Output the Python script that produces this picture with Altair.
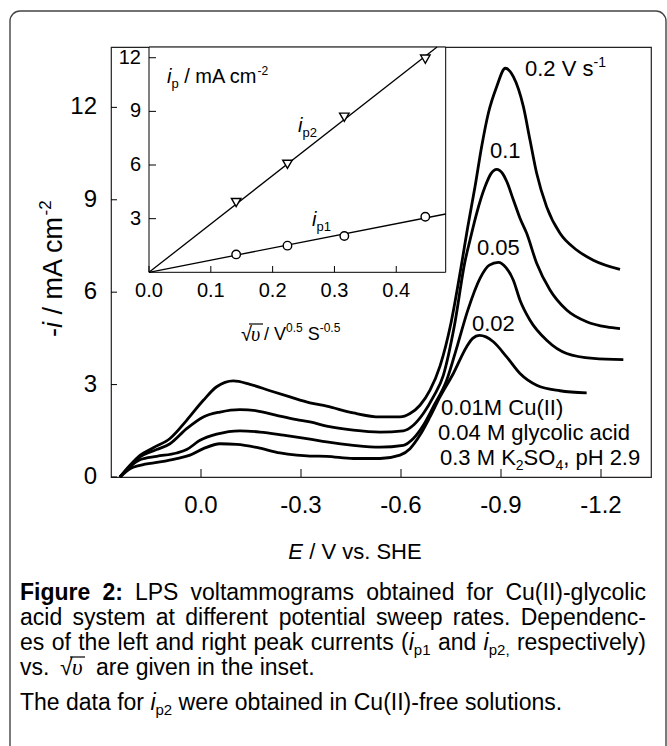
import altair as alt
import pandas as pd

# ---------------- LPS voltammograms: potential E (V vs. SHE) and -i (mA cm^-2)
E_020 = [0.243, 0.213, 0.183, 0.143, 0.093, 0.043, -0.007, -0.047, -0.097, -0.147, -0.207, -0.267, -0.327,
         -0.377, -0.457, -0.537, -0.597, -0.627, -0.657, -0.687, -0.717, -0.750, -0.780, -0.800, -0.822,
         -0.842, -0.862, -0.887, -0.913, -0.937, -0.967, -0.987, -1.007, -1.037, -1.077, -1.127, -1.177, -1.257]
I_020 = [0.00, 0.38, 0.70, 0.95, 1.25, 1.84, 2.49, 2.93, 3.12, 3.01, 2.80, 2.60, 2.41,
         2.30, 2.08, 1.95, 1.95, 2.06, 2.33, 2.82, 3.60, 5.00, 6.80, 8.10, 9.42,
         10.73, 11.81, 12.67, 13.27, 13.00, 12.03, 10.94, 9.86, 8.77, 7.91, 7.37, 7.04, 6.74]

E_010 = [0.243, 0.213, 0.183, 0.133, 0.093, 0.043, -0.007, -0.057, -0.117, -0.167, -0.227, -0.287, -0.327,
         -0.377, -0.457, -0.537, -0.607, -0.637, -0.667, -0.697, -0.727, -0.760, -0.792, -0.807, -0.827,
         -0.852, -0.870, -0.887, -0.905, -0.917, -0.937, -0.957, -0.977, -1.007, -1.047, -1.097, -1.157,
         -1.217, -1.257]
I_010 = [0.00, 0.35, 0.65, 0.89, 1.08, 1.57, 1.95, 2.11, 2.19, 2.15, 2.00, 1.86, 1.79,
         1.65, 1.52, 1.46, 1.50, 1.68, 2.06, 2.60, 3.30, 4.90, 7.00, 7.69, 8.56,
         9.42, 9.85, 9.99, 9.85, 9.60, 9.00, 8.40, 7.91, 6.94, 6.07, 5.42, 5.04,
         4.87, 4.82]

E_005 = [0.243, 0.213, 0.183, 0.133, 0.073, 0.043, 0.003, -0.047, -0.117, -0.177, -0.247, -0.327,
         -0.377, -0.457, -0.537, -0.607, -0.637, -0.667, -0.697, -0.737, -0.770, -0.800, -0.837, -0.865,
         -0.892, -0.915, -0.937, -0.957, -0.987, -1.037, -1.097, -1.177, -1.267]
I_005 = [0.00, 0.33, 0.56, 0.67, 0.78, 0.89, 1.19, 1.39, 1.50, 1.46, 1.36, 1.23,
         1.14, 1.03, 0.97, 1.03, 1.25, 1.68, 2.28, 3.14, 4.30, 5.40, 6.45, 6.88,
         6.97, 6.80, 6.39, 5.74, 5.09, 4.44, 4.01, 3.85, 3.81]

E_002 = [0.243, 0.213, 0.183, 0.123, 0.073, 0.033, -0.007, -0.057, -0.107, -0.167, -0.237, -0.287, -0.327,
         -0.377, -0.457, -0.537, -0.597, -0.627, -0.657, -0.687, -0.717, -0.757, -0.797, -0.815, -0.835,
         -0.855, -0.877, -0.917, -0.957, -1.007, -1.077, -1.157]
I_002 = [0.00, 0.27, 0.38, 0.49, 0.60, 0.71, 0.92, 1.08, 1.06, 0.96, 0.78, 0.71, 0.68,
         0.67, 0.60, 0.60, 0.71, 0.92, 1.36, 1.95, 2.60, 3.36, 4.23, 4.50, 4.60,
         4.55, 4.39, 3.90, 3.36, 2.98, 2.80, 2.73]

main_x_ticks = [0.0, -0.3, -0.6, -0.9, -1.2]
main_x_labels = ["0.0", "-0.3", "-0.6", "-0.9", "-1.2"]
main_y_ticks = [0, 3, 6, 9, 12]

# ---------------- inset: peak currents vs. square root of sweep rate
sqrt_v = [0.141, 0.224, 0.316, 0.447]
ip1 = [1.00, 1.49, 2.03, 3.11]
ip2 = [3.90, 6.04, 8.67, 11.92]
fit1_x, fit1_y = [0.0, 0.48], [0.0, 3.26]
fit2_x, fit2_y = [0.0, 0.466], [0.0, 12.6]
inset_x_ticks = [0.0, 0.1, 0.2, 0.3, 0.4]
inset_x_labels = ["0.0", "0.1", "0.2", "0.3", "0.4"]
inset_y_ticks = [3, 6, 9, 12]

# ---------------- layout (page pixels)
X0, Y0 = 111, 47          # top-left corner of the plot area
W, H = 540, 430
SANS = "Liberation Sans"
SERIF = "Liberation Serif"

main_x = alt.Scale(domain=[-1.35, 0.27], reverse=True, nice=False, zero=False)
main_y = alt.Scale(domain=[0, 13.96], nice=False, zero=False)
inset_x = alt.Scale(domain=[0, 0.48], range=[38, 334.7], nice=False, zero=False)
inset_y = alt.Scale(domain=[0, 12.6], range=[225.3, 0], nice=False, zero=False)

# Arial-compatible advance widths (per 1000 em) for laying out text runs
_W = {" ": 278, "(": 333, ")": 333, ",": 278, "-": 333, ".": 278, "/": 278, ":": 278,
      "A": 667, "C": 722, "D": 722, "E": 667, "F": 611, "H": 722, "I": 278, "K": 667, "L": 556,
      "M": 833, "O": 778, "P": 667, "S": 667, "T": 611, "V": 667,
      "a": 556, "b": 556, "c": 500, "d": 556, "e": 556, "f": 278, "g": 556, "h": 556, "i": 222,
      "k": 500, "l": 222, "m": 833, "n": 556, "o": 556, "p": 556, "r": 333, "s": 500, "t": 278,
      "u": 556, "v": 500, "w": 722, "y": 500, "√": 549, "υ": 500}
_WB = {"F": 611, "i": 278, "g": 611, "u": 611, "r": 389, "e": 556, " ": 278, "2": 556, ":": 333}


def tw(s, size, bold=False):
    tot = 0
    for ch in s:
        if bold and ch in _WB:
            tot += _WB[ch]
        elif ch.isdigit():
            tot += 556
        else:
            tot += _W.get(ch, 556)
    return tot * size / 1000.0


def label(s, x, y, size, style="normal", weight="normal", align="left",
          baseline="alphabetic", angle=0, font=SANS):
    return alt.Chart(pd.DataFrame({"t": [s]})).mark_text(
        align=align, baseline=baseline, font=font, fontSize=size, fontStyle=style,
        fontWeight=weight, angle=angle, color="black"
    ).encode(x=alt.value(x - X0), y=alt.value(y - Y0), text="t:N")


def run(pieces, x, y, anchor="left"):
    """Lay out a horizontal run of (text, size, style, weight, dy) pieces."""
    total = sum(tw(p[0], p[1], p[3] == "bold") for p in pieces)
    if anchor == "right":
        x -= total
    elif anchor == "center":
        x -= total / 2.0
    out = []
    for s, size, style, weight, dy in pieces:
        lead = len(s) - len(s.lstrip(" "))
        core = s.strip(" ")
        if core:
            out.append(label(core, x + lead * 0.278 * size, y + dy, size, style, weight))
        x += tw(s, size, weight == "bold")
    return out


def run_width(pieces):
    return sum(tw(p[0], p[1], p[3] == "bold") for p in pieces)


def justify(words, x1, x2, y):
    """Spread words (each a list of pieces) evenly between x1 and x2."""
    widths = [run_width(w) for w in words]
    gap = (x2 - x1 - sum(widths)) / (len(words) - 1)
    out, x = [], x1
    for w, wd in zip(words, widths):
        out += run(w, x, y)
        x += wd + gap
    return out


def bar(x1, x2, y, width=1.2):
    return alt.Chart(pd.DataFrame({"k": [0]})).mark_rule(color="black", strokeWidth=width).encode(
        x=alt.value(x1 - X0), x2=alt.value(x2 - X0), y=alt.value(y - Y0))


# ---------------- main voltammogram layers
rows = []
for rate, es, cs in (("0.2", E_020, I_020), ("0.1", E_010, I_010),
                     ("0.05", E_005, I_005), ("0.02", E_002, I_002)):
    for k, (e, c) in enumerate(zip(es, cs)):
        rows.append({"rate": rate, "k": k, "E": e, "I": c})
curves_df = pd.DataFrame(rows)

curves = alt.Chart(curves_df).mark_line(color="black", strokeWidth=2.8, interpolate="monotone").encode(
    x=alt.X("E:Q", scale=main_x, axis=None),
    y=alt.Y("I:Q", scale=main_y, axis=None),
    detail="rate:N",
    order="k:Q",
)

xt_df = pd.DataFrame({"v": main_x_ticks, "lab": main_x_labels})
yt_df = pd.DataFrame({"v": main_y_ticks, "lab": [str(v) for v in main_y_ticks]})

main_xtick = alt.Chart(xt_df).mark_rule(color="black", strokeWidth=1).encode(
    x=alt.X("v:Q", scale=main_x, axis=None), y=alt.value(H), y2=alt.value(H - 8))
main_ytick = alt.Chart(yt_df).mark_rule(color="black", strokeWidth=1).encode(
    y=alt.Y("v:Q", scale=main_y, axis=None), x=alt.value(0), x2=alt.value(6))
main_xlab = alt.Chart(xt_df).mark_text(font=SANS, fontSize=24, baseline="middle", align="center",
                                       color="black").encode(
    x=alt.X("v:Q", scale=main_x, axis=None), y=alt.value(506 - Y0), text="lab:N")
main_ylab = alt.Chart(yt_df).mark_text(font=SANS, fontSize=24, baseline="middle", align="right",
                                       color="black").encode(
    y=alt.Y("v:Q", scale=main_y, axis=None), x=alt.value(97 - X0), text="lab:N")

N = "normal"
texts = []
# sweep-rate labels on the curves
texts += run([("0.2 V s", 22, N, N, 0), ("-1", 14, N, N, -9)], 525, 76)
texts += run([("0.1", 22, N, N, 0)], 490, 158)
texts += run([("0.05", 22, N, N, 0)], 477, 255)
texts += run([("0.02", 22, N, N, 0)], 472, 331)
# solution composition
texts += run([("0.01M Cu(II)", 22, N, N, 0)], 441, 415)
texts += run([("0.04 M glycolic acid", 22, N, N, 0)], 438, 440)
texts += run([("0.3 M K", 22, N, N, 0), ("2", 14, N, N, 5), ("SO", 22, N, N, 0),
              ("4", 14, N, N, 5), (", pH 2.9", 22, N, N, 0)], 440, 465)

# axis titles
texts += run([("E", 22, "italic", N, 0), (" / V vs. SHE", 22, N, N, 0)], 355, 559, anchor="center")
YT = 27
yy = 337
texts.append(label("-", 62, yy, YT, angle=270))
yy -= tw("-", YT)
texts.append(label("i", 62, yy, YT, style="italic", angle=270))
yy -= tw("i ", YT)
texts.append(label("/ mA cm", 62, yy, YT, angle=270))
yy -= tw("/ mA cm", YT)
texts.append(label("-2", 51, yy, 17, angle=270))

# caption (justified paragraph + closing note)
CS, SS = 23, 15


def w(s, style=N, weight=N):
    return [(s, CS, style, weight, 0)]


line1 = [w("Figure", weight="bold"), w("2:", weight="bold")] + \
    [w(s) for s in "LPS voltammograms obtained for Cu(II)-glycolic".split()]
line2 = [w(s) for s in "acid system at different potential sweep rates. Dependenc-".split()]
line3 = [w(s) for s in "es of the left and right peak currents".split()] + [
    [("(", CS, N, N, 0), ("i", CS, "italic", N, 0), ("p1", SS, N, N, 5)],
    w("and"),
    [("i", CS, "italic", N, 0), ("p2,", SS, N, N, 5)],
    w("respectively)"),
]
texts += justify(line1, 20, 646, 600)
texts += justify(line2, 20, 646, 625)
texts += justify(line3, 20, 646, 650)
texts += run(w("vs."), 20, 675)
texts.append(label("√", 60, 675, CS))
texts.append(label("υ", 72, 675, CS, style="italic", font=SERIF))
texts.append(bar(70, 85, 657))
texts += run(w("are given in the inset."), 96, 675)
texts += run([("The data for ", CS, N, N, 0), ("i", CS, "italic", N, 0), ("p2", SS, N, N, 5),
              (" were obtained in Cu(II)-free solutions.", CS, N, N, 0)], 20, 710)

# rounded outer frame
frame = alt.Chart(pd.DataFrame({"k": [0]})).mark_rect(
    fill="transparent", stroke="#444", strokeWidth=1.4, cornerRadius=10).encode(
    x=alt.value(10 - X0), x2=alt.value(666 - X0), y=alt.value(11 - Y0), y2=alt.value(800 - Y0))

main = alt.layer(frame, curves, main_xtick, main_ytick, main_xlab, main_ylab, *texts)

# ---------------- inset layers
box = alt.Chart(pd.DataFrame({"x0": [0.0], "x1": [0.48], "y0": [0.0], "y1": [12.6]})).mark_rect(
    fill="white", stroke="black", strokeWidth=1).encode(
    x=alt.X("x0:Q", scale=inset_x, axis=None), x2="x1:Q",
    y=alt.Y("y0:Q", scale=inset_y, axis=None), y2="y1:Q")

fit_df = pd.DataFrame({"s": fit1_x + fit2_x, "ip": fit1_y + fit2_y,
                       "peak": ["p1", "p1", "p2", "p2"]})
fits = alt.Chart(fit_df).mark_line(color="black", strokeWidth=1.3).encode(
    x=alt.X("s:Q", scale=inset_x, axis=None), y=alt.Y("ip:Q", scale=inset_y, axis=None),
    detail="peak:N")

pts_df = pd.DataFrame({"s": sqrt_v, "ip1": ip1, "ip2": ip2})
circles = alt.Chart(pts_df).mark_point(shape="circle", filled=True, fill="white", stroke="black",
                                       strokeWidth=1.4, size=72, opacity=1).encode(
    x=alt.X("s:Q", scale=inset_x, axis=None), y=alt.Y("ip1:Q", scale=inset_y, axis=None))
triangles = alt.Chart(pts_df).mark_point(shape="triangle-down", filled=True, fill="white",
                                         stroke="black", strokeWidth=1.4, size=90, opacity=1).encode(
    x=alt.X("s:Q", scale=inset_x, axis=None), y=alt.Y("ip2:Q", scale=inset_y, axis=None))

ixt_df = pd.DataFrame({"v": inset_x_ticks, "lab": inset_x_labels})
iyt_df = pd.DataFrame({"v": inset_y_ticks, "lab": [str(v) for v in inset_y_ticks]})
in_xtick = alt.Chart(ixt_df).mark_rule(color="black", strokeWidth=1).encode(
    x=alt.X("v:Q", scale=inset_x, axis=None), y=alt.value(225.3), y2=alt.value(219))
in_ytick = alt.Chart(iyt_df).mark_rule(color="black", strokeWidth=1).encode(
    y=alt.Y("v:Q", scale=inset_y, axis=None), x=alt.value(38), x2=alt.value(45))
in_xlab = alt.Chart(ixt_df).mark_text(font=SANS, fontSize=20, baseline="middle", align="center",
                                      color="black").encode(
    x=alt.X("v:Q", scale=inset_x, axis=None), y=alt.value(291 - Y0), text="lab:N")
in_ylab = alt.Chart(iyt_df).mark_text(font=SANS, fontSize=20, baseline="middle", align="right",
                                      color="black").encode(
    y=alt.Y("v:Q", scale=inset_y, axis=None), x=alt.value(141 - X0), text="lab:N")

in_texts = []
in_texts += run([("i", 20, "italic", N, 0), ("p", 13, N, N, 5),
                 (" / mA cm", 20, N, N, 0), ("-2", 12, N, N, -8)], 167, 83)
in_texts += run([("i", 20, "italic", N, 0), ("p2", 13, N, N, 5)], 298, 132)
in_texts += run([("i", 20, "italic", N, 0), ("p1", 13, N, N, 5)], 312, 226)
# inset x-axis title: sqrt(v) / V^0.5 S^-0.5
in_texts.append(label("√", 241, 341, 20))
in_texts.append(label("υ", 251, 341, 20, style="italic", font=SERIF))
in_texts.append(bar(249, 263, 324))
in_texts += run([("/ V", 18, N, N, 0), ("0.5", 12, N, N, -8),
                 (" S", 18, N, N, 0), ("-0.5", 12, N, N, -8)], 264, 340)

inset = alt.layer(box, fits, circles, triangles, in_xtick, in_ytick, in_xlab, in_ylab, *in_texts)

chart = alt.layer(main, inset).resolve_scale(x="independent", y="independent").properties(
    width=W, height=H,
    padding={"left": X0, "top": Y0, "right": 667 - X0 - W, "bottom": 746 - Y0 - H},
    autosize=alt.AutoSizeParams(type="none"),
    background="white",
).configure_view(stroke="#222", strokeWidth=1.2)

chart.save("out.html", embed_options={"renderer": "svg", "actions": False})
